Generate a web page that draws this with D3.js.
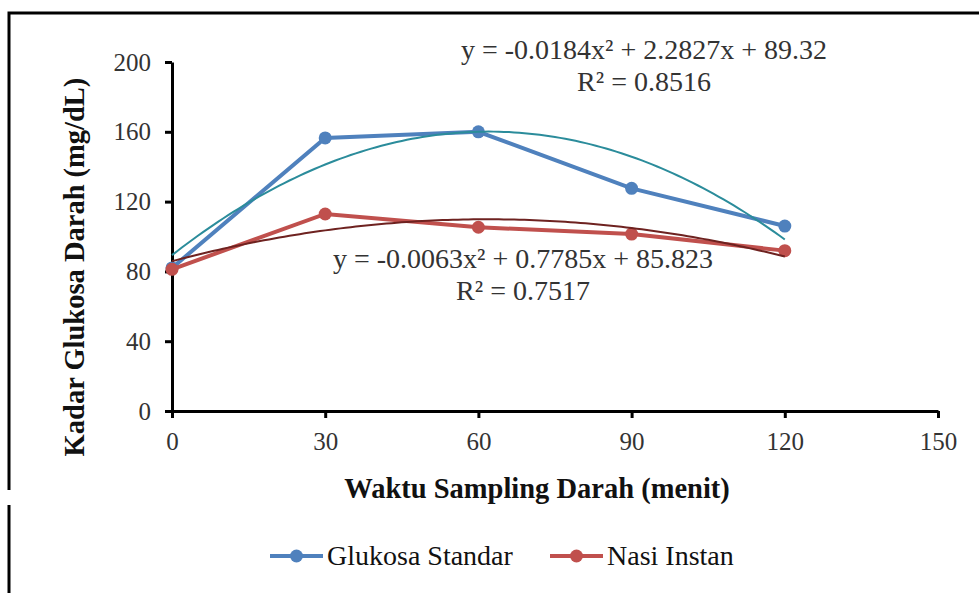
<!DOCTYPE html>
<html>
<head>
<meta charset="utf-8">
<script src="https://cdn.jsdelivr.net/npm/d3@7"></script>
<style>
  body { margin: 0; background: #fff; }
  svg { display: block; font-family: "Liberation Serif", "DejaVu Serif", serif; }
</style>
</head>
<body>
<div id="my_dataviz"></div>
<script>
// data
var times = [0, 30, 60, 90, 120];
var glukosaStandar = [82, 156.5, 160, 127.6, 106];
var nasiInstan = [81.2, 112.9, 105.3, 101.4, 91.9];
var xTicks = [0, 30, 60, 90, 120, 150];
var yTicks = [0, 40, 80, 120, 160, 200];
// trendline coefficients as printed on the chart (a, b, c of ax^2 + bx + c)
var trendGlukosa = [-0.0184, 2.2827, 89.32];
var trendNasi = [-0.0063, 0.7785, 85.823];
var eqGlukosa = ["y = -0.0184x² + 2.2827x + 89.32", "R² = 0.8516"];
var eqNasi = ["y = -0.0063x² + 0.7785x + 85.823", "R² = 0.7517"];

var W = 979, H = 593;
var margin = {top: 62, right: 41, bottom: 182, left: 172},
    width = W - margin.left - margin.right,
    height = H - margin.top - margin.bottom;

var svg = d3.select("#my_dataviz")
    .append("svg")
    .attr("width", W)
    .attr("height", H);

// outer frame (cropped chart border)
svg.append("path")
    .attr("d", "M9,490 L9,13 L979,13 M9,505 L9,593")
    .attr("fill", "none")
    .attr("stroke", "#000")
    .attr("stroke-width", 3);

var g = svg.append("g")
    .attr("transform", "translate(" + margin.left + "," + margin.top + ")");

var x = d3.scaleLinear().domain([0, 150]).range([0, width]);
var y = d3.scaleLinear().domain([0, 200]).range([height, 0]);

// axes
var xAxis = g.append("g")
    .attr("transform", "translate(0," + height + ")")
    .call(d3.axisBottom(x).tickValues(xTicks).tickSize(7).tickSizeOuter(0).tickPadding(14));
var yAxis = g.append("g")
    .call(d3.axisLeft(y).tickValues(yTicks).tickSize(7).tickSizeOuter(0).tickPadding(14));

[xAxis, yAxis].forEach(function(a) {
  a.select(".domain").attr("stroke", "#000").attr("stroke-width", 3);
  a.selectAll(".tick line").attr("stroke", "#000").attr("stroke-width", 3);
  a.selectAll(".tick text")
    .attr("font-family", "Liberation Serif")
    .attr("font-size", 25)
    .attr("fill", "#333");
});
xAxis.selectAll(".tick text").attr("dy", "0.71em");

// axis titles
svg.append("text")
    .attr("x", 537)
    .attr("y", 498)
    .attr("text-anchor", "middle")
    .attr("font-size", 28.5)
    .attr("font-weight", "bold")
    .attr("fill", "#111")
    .text("Waktu Sampling Darah (menit)");

svg.append("text")
    .attr("transform", "translate(84,267) rotate(-90)")
    .attr("text-anchor", "middle")
    .attr("font-size", 28.5)
    .attr("font-weight", "bold")
    .attr("fill", "#111")
    .text("Kadar Glukosa Darah (mg/dL)");

// trendlines
function quad(c) {
  return function(t) { return c[0] * t * t + c[1] * t + c[2]; };
}
var tSample = d3.range(0, 120.5, 1);
var trendLine = d3.line().x(function(d) { return x(d[0]); }).y(function(d) { return y(d[1]); });

var series = [
  {name: "Glukosa Standar", values: glukosaStandar, color: "#4F81BD", trend: trendGlukosa, trendColor: "#2B8C9B"},
  {name: "Nasi Instan", values: nasiInstan, color: "#C0504D", trend: trendNasi, trendColor: "#6E2220"}
];

var dataLine = d3.line()
    .x(function(d) { return x(d.t); })
    .y(function(d) { return y(d.v); });

// data lines with markers (red drawn on top)
series.forEach(function(s) {
  var pts = times.map(function(t, i) { return {t: t, v: s.values[i]}; });
  g.append("path")
    .datum(pts)
    .attr("d", dataLine)
    .attr("fill", "none")
    .attr("stroke", s.color)
    .attr("stroke-width", 4);
  g.selectAll(null)
    .data(pts)
    .enter()
    .append("circle")
    .attr("cx", function(d) { return x(d.t); })
    .attr("cy", function(d) { return y(d.v); })
    .attr("r", 6.5)
    .attr("fill", s.color);
});

series.forEach(function(s) {
  var f = quad(s.trend);
  g.append("path")
    .datum(tSample.map(function(t) { return [t, f(t)]; }))
    .attr("d", trendLine)
    .attr("fill", "none")
    .attr("stroke", s.trendColor)
    .attr("stroke-width", 2);
});

// equation labels
function eqLabel(lines, cx, y0) {
  var t = svg.append("text")
      .attr("text-anchor", "middle")
      .attr("font-size", 28)
      .attr("fill", "#333");
  lines.forEach(function(l, i) {
    t.append("tspan").attr("x", cx).attr("y", y0 + i * 32).text(l);
  });
}
eqLabel(eqGlukosa, 644, 59);
eqLabel(eqNasi, 523, 268);

// legend
var legend = svg.append("g");
var legendX = [270, 550];
series.forEach(function(s, i) {
  var lg = legend.append("g").attr("transform", "translate(" + legendX[i] + ",556)");
  lg.append("line").attr("x1", 0).attr("x2", 53).attr("y1", 0).attr("y2", 0)
    .attr("stroke", s.color).attr("stroke-width", 4);
  lg.append("circle").attr("cx", 26.5).attr("cy", 0).attr("r", 6.5).attr("fill", s.color);
  lg.append("text").attr("x", 57).attr("y", 0).attr("dy", "0.33em")
    .attr("font-size", 28).attr("fill", "#111").text(s.name);
});
</script>
</body>
</html>
